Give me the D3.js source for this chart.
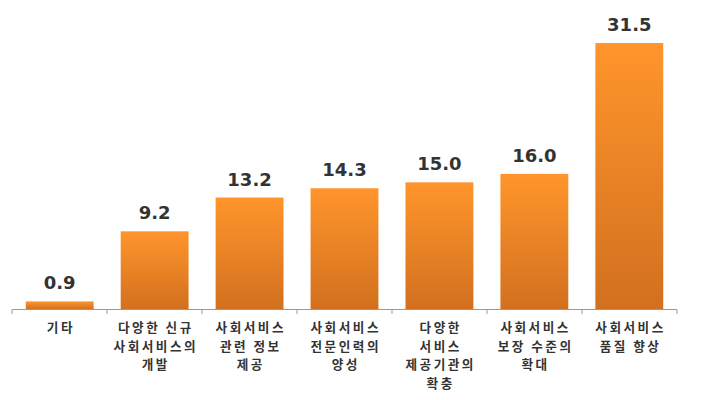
<!DOCTYPE html>
<html><head><meta charset="utf-8">
<script src="https://cdn.jsdelivr.net/npm/d3@7"></script>
<style>body{margin:0;background:#fff}</style>
</head><body>
<svg id="c" width="710" height="400"></svg>
<script>
const categories = [
  ["기타"],
  ["다양한 신규","사회서비스의","개발"],
  ["사회서비스","관련 정보","제공"],
  ["사회서비스","전문인력의","양성"],
  ["다양한","서비스","제공기관의","확충"],
  ["사회서비스","보장 수준의","확대"],
  ["사회서비스","품질 향상"]
];
const values = [0.9, 9.2, 13.2, 14.3, 15.0, 16.0, 31.5];
const labels = ["0.9","9.2","13.2","14.3","15.0","16.0","31.5"];

const svg = d3.select("#c");
const defs = svg.append("defs");
const g1 = defs.append("linearGradient").attr("id","gr").attr("x1",0).attr("y1",0).attr("x2",0).attr("y2",1);
g1.append("stop").attr("offset","0%").attr("stop-color","#FF952B");
g1.append("stop").attr("offset","100%").attr("stop-color","#D2701F");

const idx = d3.range(values.length);
const x = d3.scaleBand().domain(idx).range([12, 677]).paddingInner(0.285).paddingOuter(0.145);
const y = d3.scaleLinear().domain([0, 31.5]).range([309, 43]);

svg.selectAll("rect.bar").data(idx).join("rect").attr("class","bar")
  .attr("x", i => x(i)).attr("width", x.bandwidth())
  .attr("y", i => y(values[i])).attr("height", i => y(0) - y(values[i]))
  .attr("fill","url(#gr)");

svg.selectAll("text.val").data(idx).join("text").attr("class","val")
  .attr("x", i => x(i) + x.bandwidth()/2).attr("y", i => y(values[i]) - 12)
  .attr("text-anchor","middle").attr("font-family","DejaVu Sans, sans-serif")
  .attr("font-weight","bold").attr("font-size","18px").attr("fill","#333")
  .text(i => labels[i]);

// axis
svg.append("line").attr("x1",12).attr("x2",677).attr("y1",309.5).attr("y2",309.5)
  .attr("stroke","#999").attr("stroke-width",1);
const bounds = d3.range(values.length+1).map(k => 12 + k*(665/values.length));
svg.selectAll("line.tick").data(bounds).join("line").attr("class","tick")
  .attr("x1",d=>d).attr("x2",d=>d).attr("y1",309.5).attr("y2",314)
  .attr("stroke","#999");

const cat = svg.selectAll("text.cat").data(idx).join("text").attr("class","cat")
  .attr("text-anchor","middle").attr("font-family","Noto Sans CJK KR, sans-serif")
  .attr("font-weight","bold").attr("font-size","12.6px").attr("letter-spacing","2.5px").attr("fill","#333");
cat.each(function(i){
  const t = d3.select(this);
  categories[i].forEach((line, k) => {
    t.append("tspan").attr("x", x(i) + x.bandwidth()/2 + 1.25).attr("y", 332 + k*18.5).text(line);
  });
});
</script>
</body></html>
